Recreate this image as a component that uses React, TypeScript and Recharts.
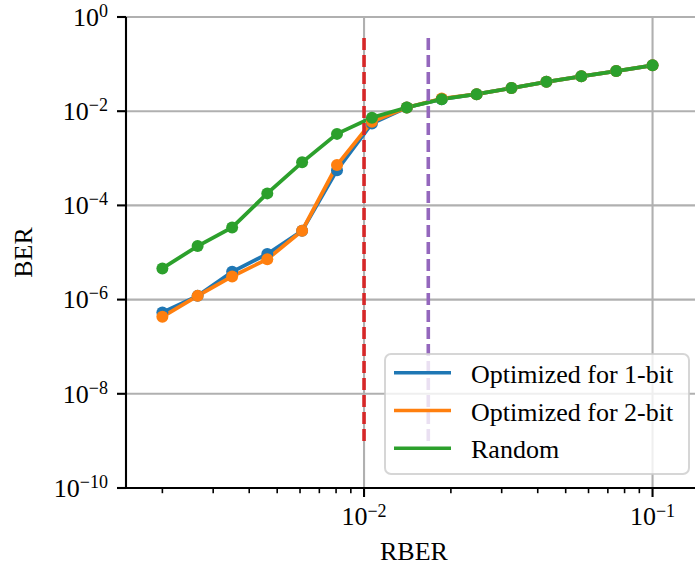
import React from 'react';
import { ComposedChart, Line, XAxis, YAxis, CartesianGrid, ReferenceLine, Legend } from 'recharts';

// RBER values (x)
const rber = [0.002, 0.00265, 0.00349, 0.00462, 0.0061, 0.00806, 0.01065, 0.01407, 0.01859, 0.02456, 0.03245, 0.04287, 0.05664, 0.07483, 0.1];
// BER series
const berOpt1 = [5.3e-7, 1.2e-6, 3.9e-6, 9.3e-6, 2.9e-5, 5.6e-4, 5.5e-3, 1.2e-2, 1.8e-2, 2.3e-2, 3.1e-2, 4.2e-2, 5.5e-2, 7.1e-2, 9.4e-2];
const berOpt2 = [4.3e-7, 1.2e-6, 3.1e-6, 7.2e-6, 2.9e-5, 7.2e-4, 6.0e-3, 1.2e-2, 1.85e-2, 2.3e-2, 3.1e-2, 4.2e-2, 5.5e-2, 7.1e-2, 9.4e-2];
const berRandom = [4.6e-6, 1.37e-5, 3.4e-5, 1.8e-4, 8.2e-4, 3.3e-3, 7.3e-3, 1.2e-2, 1.8e-2, 2.3e-2, 3.1e-2, 4.2e-2, 5.5e-2, 7.1e-2, 9.4e-2];

const seriesNames = ['Optimized for 1-bit', 'Optimized for 2-bit', 'Random'];
const seriesColors = ['#1f77b4', '#ff7f0e', '#2ca02c'];

const xMajorTicks = [0.01, 0.1];
const xMinorTicks = [0.002, 0.003, 0.004, 0.005, 0.006, 0.007, 0.008, 0.009, 0.02, 0.03, 0.04, 0.05, 0.06, 0.07, 0.08, 0.09];
const yTicks = [1e-10, 1e-8, 1e-6, 1e-4, 1e-2, 1];
const xDomain = [0.001496, 0.1484];
const yDomain = [1e-10, 1];

// vertical dashed markers
const redLineX = 0.01;
const purpleLineX = 0.0167;
const vLineYMin = 1e-9;
const vLineYMax = 0.46;

const FONT = "'Liberation Serif', 'Times New Roman', serif";

const toData = (ys: number[]) => rber.map((x, i) => ({ x, y: ys[i] }));
const dataSets = [toData(berOpt1), toData(berOpt2), toData(berRandom)];

const expLabel = (v: number) => {
  const e = Math.round(Math.log10(v));
  return e < 0 ? '\u2212' + Math.abs(e) : String(e);
};

const isMajorX = (v: number) => xMajorTicks.some((t) => Math.abs(t - v) / t < 1e-6);

const XTick = (props: any) => {
  const { x, y, payload } = props;
  const v = payload.value;
  if (isMajorX(v)) {
    return (
      <g>
        <line x1={x} y1={y} x2={x} y2={y + 9} stroke="#000" strokeWidth={2.1} />
        <text x={x} y={y + 37} textAnchor="middle" fontFamily={FONT} fontSize={26} fill="#000">
          <tspan>10</tspan>
          <tspan dy={-8.5} fontSize={18}>{expLabel(v)}</tspan>
        </text>
      </g>
    );
  }
  return <line x1={x} y1={y} x2={x} y2={y + 5.2} stroke="#000" strokeWidth={1.6} />;
};

const YTick = (props: any) => {
  const { x, y, payload } = props;
  const v = payload.value;
  return (
    <text x={x} y={y + 8.8} textAnchor="end" fontFamily={FONT} fontSize={26} fill="#000">
      <tspan>10</tspan>
      <tspan dy={-9} fontSize={18}>{expLabel(v)}</tspan>
    </text>
  );
};

const LegendBox = () => (
  <svg width={306} height={122} style={{ display: 'block' }}>
    <rect x={1} y={1} width={304} height={120} rx={6} ry={6} fill="#fff" fillOpacity={0.8} stroke="#cccccc" strokeOpacity={0.8} strokeWidth={2} />
    {seriesNames.map((name, i) => {
      const cy = 19.7 + 37.8 * i;
      return (
        <g key={name}>
          <line x1={10} y1={cy} x2={67} y2={cy} stroke={seriesColors[i]} strokeWidth={3.6} />
          <text x={87} y={cy + 10} fontFamily={FONT} fontSize={26} fill="#000">{name}</text>
        </g>
      );
    })}
  </svg>
);

export default function App() {
  return (
    <div style={{ position: 'absolute', left: 0, top: 0, width: 695, height: 568, overflow: 'hidden', background: '#fff' }}>
      <ComposedChart width={710} height={568} margin={{ top: 17, right: 8, bottom: 0, left: 0 }}>
        <CartesianGrid stroke="#b0b0b0" strokeWidth={2.1} vertical={false} />
        {xMajorTicks.map((t) => (
          <ReferenceLine key={'g' + t} x={t} stroke="#b0b0b0" strokeWidth={2.1} />
        ))}
        <XAxis
          dataKey="x"
          type="number"
          scale="log"
          domain={xDomain}
          allowDataOverflow
          ticks={[...xMinorTicks, ...xMajorTicks].sort((a, b) => a - b)}
          interval={0}
          tickLine={false}
          tickSize={0}
          tickMargin={0}
          tick={<XTick />}
          axisLine={{ stroke: '#000', strokeWidth: 2.1 }}
          height={80}
          label={{
            content: (p: any) => {
              const vb = p.viewBox || { x: 126, y: 488, width: 576 };
              return (
                <text x={vb.x + vb.width / 2} y={vb.y + 72} textAnchor="middle" fontFamily={FONT} fontSize={26} fill="#000">
                  RBER
                </text>
              );
            },
          }}
        />
        <XAxis
          xAxisId="top"
          orientation="top"
          dataKey="x"
          type="number"
          scale="log"
          domain={xDomain}
          allowDataOverflow
          height={0}
          tick={false}
          tickLine={false}
          axisLine={{ stroke: '#000', strokeWidth: 2.1 }}
        />
        <YAxis
          type="number"
          scale="log"
          domain={yDomain}
          allowDataOverflow
          ticks={yTicks}
          interval={0}
          width={126}
          tickSize={9}
          tickMargin={9}
          tickLine={{ stroke: '#000', strokeWidth: 2.1 }}
          axisLine={{ stroke: '#000', strokeWidth: 2.1 }}
          tick={<YTick />}
          label={{
            content: (p: any) => {
              const vb = p.viewBox || { x: 0, y: 17, height: 471 };
              const cx = 32;
              const cy = vb.y + vb.height / 2;
              return (
                <text x={cx} y={cy} transform={`rotate(-90, ${cx}, ${cy})`} textAnchor="middle" fontFamily={FONT} fontSize={26} fill="#000">
                  BER
                </text>
              );
            },
          }}
        />
        {dataSets.map((d, i) => (
          <Line
            key={seriesNames[i]}
            data={d}
            dataKey="y"
            name={seriesNames[i]}
            stroke={seriesColors[i]}
            strokeWidth={3.8}
            dot={{ r: 6, fill: seriesColors[i], stroke: seriesColors[i], strokeWidth: 0 }}
            activeDot={false}
            isAnimationActive={false}
          />
        ))}
        <ReferenceLine
          segment={[{ x: redLineX, y: vLineYMin }, { x: redLineX, y: vLineYMax }]}
          stroke="#d62728"
          strokeWidth={3.6}
          strokeDasharray="12 5"
          ifOverflow="visible"
        />
        <ReferenceLine
          segment={[{ x: purpleLineX, y: vLineYMin }, { x: purpleLineX, y: vLineYMax }]}
          stroke="#9467bd"
          strokeWidth={3.6}
          strokeDasharray="12 5"
          ifOverflow="visible"
        />
        <Legend
          layout="vertical"
          align="center"
          verticalAlign="middle"
          content={() => <LegendBox />}
          wrapperStyle={{ left: 384, top: 353, width: 306, height: 122 }}
        />
      </ComposedChart>
    </div>
  );
}
